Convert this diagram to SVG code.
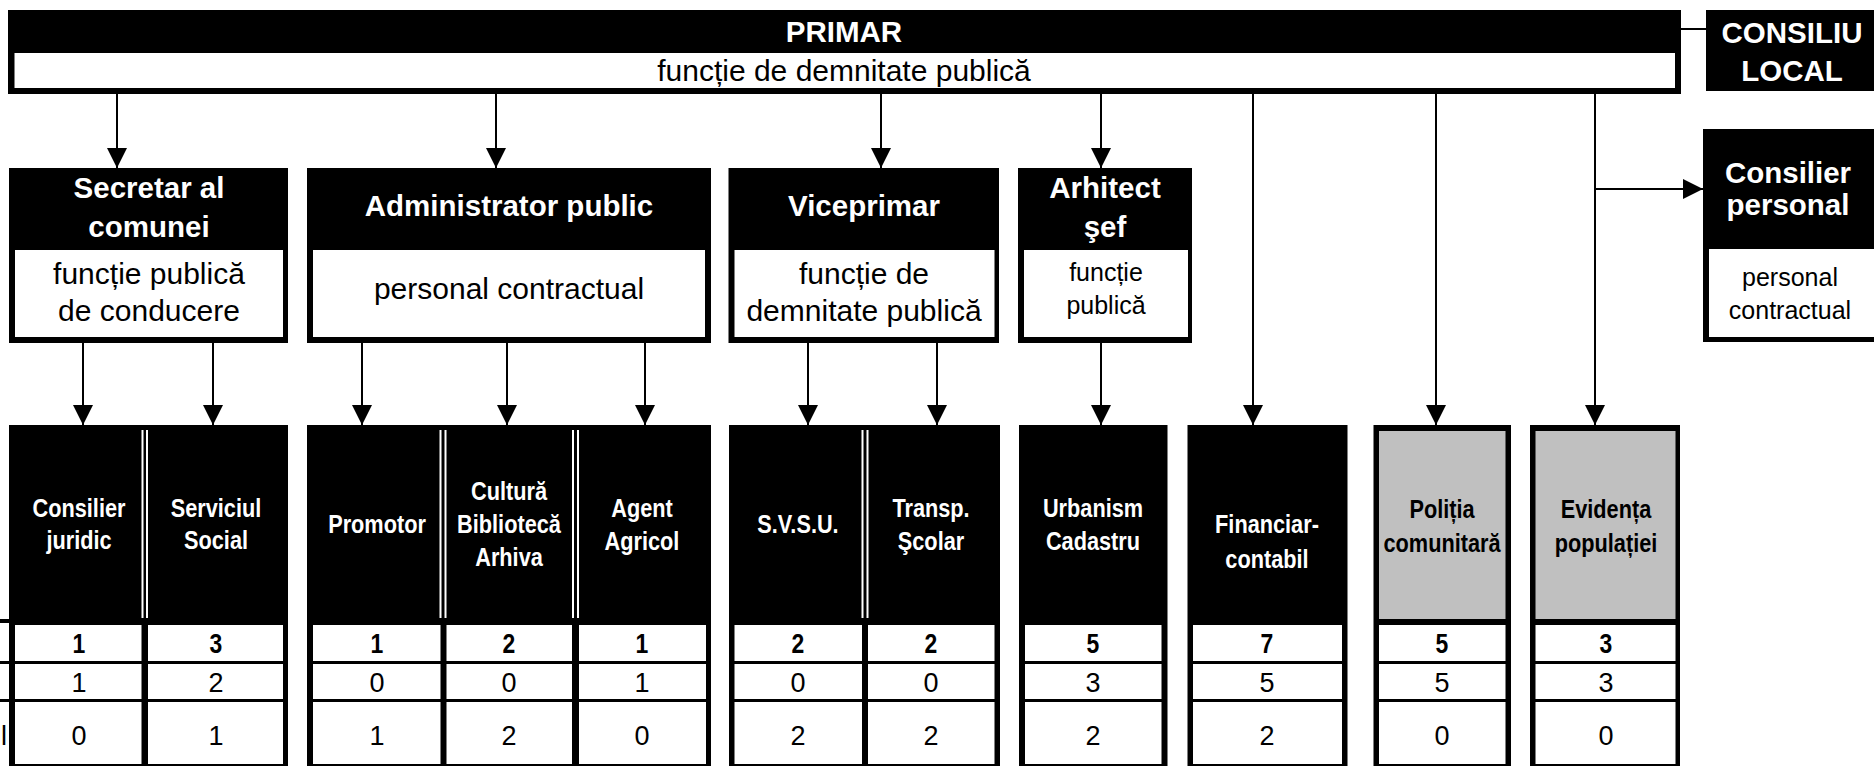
<svg xmlns="http://www.w3.org/2000/svg" width="1874" height="766" viewBox="0 0 1874 766">
<style>
.bk{fill:#000}
.wh{fill:#fff}
.gr{fill:#c0c0c0}
.tb{font-family:"Liberation Sans",Arial,sans-serif;font-weight:bold;font-size:29.5px;fill:#fff;text-anchor:middle}
.tr{font-family:"Liberation Sans",Arial,sans-serif;font-size:30px;fill:#000;text-anchor:middle}
.ts{font-family:"Liberation Sans",Arial,sans-serif;font-size:25px;fill:#000;text-anchor:middle}
.nw{font-family:"Liberation Sans",Arial,sans-serif;font-weight:bold;font-size:26.5px;fill:#fff;text-anchor:middle}
.nk{font-family:"Liberation Sans",Arial,sans-serif;font-weight:bold;font-size:26.5px;fill:#000;text-anchor:middle}
.d1{font-family:"Liberation Sans",Arial,sans-serif;font-weight:bold;font-size:27px;fill:#000;text-anchor:middle}
.d2{font-family:"Liberation Sans",Arial,sans-serif;font-size:27px;fill:#000;text-anchor:middle}
.ln{stroke:#000;stroke-width:2;fill:none}
.ar{stroke:#000;stroke-width:2;fill:none;marker-end:url(#ah)}
</style>
<defs>
<marker id="ah" markerUnits="userSpaceOnUse" markerWidth="20" markerHeight="20" viewBox="0 0 20 20" refX="20" refY="10" orient="auto">
<path d="M0,0 L20,10 L0,20 z" fill="#000"/>
</marker>
</defs>

<g id="connectors">
<path class="ar" d="M117,88 V168"/>
<path class="ar" d="M496,94 V168"/>
<path class="ar" d="M881,94 V168"/>
<path class="ar" d="M1101,94 V168"/>
<path class="ar" d="M1253,94 V425"/>
<path class="ar" d="M1436,94 V425"/>
<path class="ar" d="M1595,86 V425"/>
<path class="ar" d="M1595,189 H1703"/>
<path class="ar" d="M83,343 V425"/>
<path class="ar" d="M213,343 V425"/>
<path class="ar" d="M362,343 V425"/>
<path class="ar" d="M507,343 V425"/>
<path class="ar" d="M645,343 V425"/>
<path class="ar" d="M808,343 V425"/>
<path class="ar" d="M937,343 V425"/>
<path class="ar" d="M1101,343 V425"/>
<path class="ln" d="M1681,29 H1706"/>
</g>

<g id="primar">
<rect class="bk" x="8" y="10" width="1673" height="84"/>
<rect class="wh" x="14.5" y="53" width="1660.5" height="35"/>
<text class="tb" x="844" y="42">PRIMAR</text>
<text class="tr" x="844" y="81">funcție de demnitate publică</text>
</g>

<g id="consiliu-local">
<rect class="bk" x="1706" y="10" width="168" height="81"/>
<text class="tb" x="1792" y="43" font-size="31">CONSILIU</text>
<text class="tb" x="1792" y="81" font-size="31">LOCAL</text>
</g>

<g id="consilier-personal">
<rect class="bk" x="1703" y="129" width="171" height="213"/>
<rect class="wh" x="1709" y="249" width="165" height="88"/>
<text class="tb" x="1788" y="183">Consilier</text>
<text class="tb" x="1788" y="215">personal</text>
<text class="ts" x="1790" y="286" font-size="26">personal</text>
<text class="ts" x="1790" y="319" font-size="26">contractual</text>
</g>

<g id="secretar">
<rect class="bk" x="9" y="168" width="279" height="175"/>
<rect class="wh" x="15" y="250" width="268" height="87"/>
<text class="tb" x="149" y="198">Secretar al</text>
<text class="tb" x="149" y="237">comunei</text>
<text class="tr" x="149" y="284">funcție publică</text>
<text class="tr" x="149" y="321">de conducere</text>
</g>

<g id="administrator">
<rect class="bk" x="307" y="168" width="404" height="175"/>
<rect class="wh" x="313" y="250" width="392" height="87"/>
<text class="tb" x="509" y="216">Administrator public</text>
<text class="tr" x="509" y="299">personal contractual</text>
</g>

<g id="viceprimar">
<rect class="bk" x="728.5" y="168" width="270.5" height="175"/>
<rect class="wh" x="734.5" y="250" width="260" height="87"/>
<text class="tb" x="864" y="216">Viceprimar</text>
<text class="tr" x="864" y="284">funcție de</text>
<text class="tr" x="864" y="321">demnitate publică</text>
</g>

<g id="arhitect">
<rect class="bk" x="1018" y="168" width="174" height="175"/>
<rect class="wh" x="1024" y="250" width="164" height="87"/>
<text class="tb" x="1105" y="198">Arhitect</text>
<text class="tb" x="1105" y="237">şef</text>
<text class="ts" x="1106" y="281">funcție</text>
<text class="ts" x="1106" y="314">publică</text>
</g>

<g id="label-column">
<rect class="bk" x="0" y="619" width="9" height="4"/>
<rect class="bk" x="0" y="661" width="9" height="3"/>
<rect class="bk" x="0" y="699" width="9" height="3"/>
<text class="d2" x="7" y="745" style="text-anchor:end">l</text>
</g>

<g id="grup-secretar">
<rect class="bk" x="9" y="425" width="279" height="341"/>
<rect class="wh" x="141.5" y="430" width="2" height="188"/>
<rect class="wh" x="146" y="430" width="2" height="188"/>
<rect class="wh" x="15" y="625" width="126.5" height="36"/>
<rect class="wh" x="148" y="625" width="135" height="36"/>
<rect class="wh" x="15" y="664" width="126.5" height="35"/>
<rect class="wh" x="148" y="664" width="135" height="35"/>
<rect class="wh" x="15" y="702" width="126.5" height="62"/>
<rect class="wh" x="148" y="702" width="135" height="62"/>
<text class="nw" transform="translate(79,517) scale(0.82,1)">Consilier<tspan x="0" dy="32">juridic</tspan></text>
<text class="nw" transform="translate(216,517) scale(0.82,1)">Serviciul<tspan x="0" dy="32">Social</tspan></text>
<text class="d1" transform="translate(79,653) scale(0.85,1)">1</text>
<text class="d1" transform="translate(216,653) scale(0.85,1)">3</text>
<text class="d2" x="79" y="692">1</text>
<text class="d2" x="216" y="692">2</text>
<text class="d2" x="79" y="745">0</text>
<text class="d2" x="216" y="745">1</text>
</g>

<g id="grup-administrator">
<rect class="bk" x="307" y="425" width="404" height="341"/>
<rect class="wh" x="439.5" y="430" width="2" height="188"/>
<rect class="wh" x="444.5" y="430" width="2" height="188"/>
<rect class="wh" x="572" y="430" width="2" height="188"/>
<rect class="wh" x="577" y="430" width="2" height="188"/>
<rect class="wh" x="313" y="625" width="127.5" height="36"/>
<rect class="wh" x="446.5" y="625" width="125.5" height="36"/>
<rect class="wh" x="579" y="625" width="127" height="36"/>
<rect class="wh" x="313" y="664" width="127.5" height="35"/>
<rect class="wh" x="446.5" y="664" width="125.5" height="35"/>
<rect class="wh" x="579" y="664" width="127" height="35"/>
<rect class="wh" x="313" y="702" width="127.5" height="62"/>
<rect class="wh" x="446.5" y="702" width="125.5" height="62"/>
<rect class="wh" x="579" y="702" width="127" height="62"/>
<text class="nw" transform="translate(377,533) scale(0.82,1)">Promotor</text>
<text class="nw" transform="translate(509,500) scale(0.82,1)">Cultură<tspan x="0" dy="33">Bibliotecă</tspan><tspan x="0" dy="33">Arhiva</tspan></text>
<text class="nw" transform="translate(642,517) scale(0.82,1)">Agent<tspan x="0" dy="33">Agricol</tspan></text>
<text class="d1" transform="translate(377,653) scale(0.85,1)">1</text>
<text class="d1" transform="translate(509,653) scale(0.85,1)">2</text>
<text class="d1" transform="translate(642,653) scale(0.85,1)">1</text>
<text class="d2" x="377" y="692">0</text>
<text class="d2" x="509" y="692">0</text>
<text class="d2" x="642" y="692">1</text>
<text class="d2" x="377" y="745">1</text>
<text class="d2" x="509" y="745">2</text>
<text class="d2" x="642" y="745">0</text>
</g>

<g id="grup-viceprimar">
<rect class="bk" x="729" y="425" width="271" height="341"/>
<rect class="wh" x="861.5" y="430" width="2" height="188"/>
<rect class="wh" x="866.5" y="430" width="2" height="188"/>
<rect class="wh" x="734.5" y="625" width="127.5" height="36"/>
<rect class="wh" x="868" y="625" width="126.5" height="36"/>
<rect class="wh" x="734.5" y="664" width="127.5" height="35"/>
<rect class="wh" x="868" y="664" width="126.5" height="35"/>
<rect class="wh" x="734.5" y="702" width="127.5" height="62"/>
<rect class="wh" x="868" y="702" width="126.5" height="62"/>
<text class="nw" transform="translate(798,533) scale(0.82,1)">S.V.S.U.</text>
<text class="nw" transform="translate(931,517) scale(0.82,1)">Transp.<tspan x="0" dy="33">Şcolar</tspan></text>
<text class="d1" transform="translate(798,653) scale(0.85,1)">2</text>
<text class="d1" transform="translate(931,653) scale(0.85,1)">2</text>
<text class="d2" x="798" y="692">0</text>
<text class="d2" x="931" y="692">0</text>
<text class="d2" x="798" y="745">2</text>
<text class="d2" x="931" y="745">2</text>
</g>

<g id="urbanism">
<rect class="bk" x="1019" y="425" width="148.5" height="341"/>
<rect class="wh" x="1025" y="625" width="136.5" height="36"/>
<rect class="wh" x="1025" y="664" width="136.5" height="35"/>
<rect class="wh" x="1025" y="702" width="136.5" height="62"/>
<text class="nw" transform="translate(1093,517) scale(0.82,1)">Urbanism<tspan x="0" dy="33">Cadastru</tspan></text>
<text class="d1" transform="translate(1093,653) scale(0.85,1)">5</text>
<text class="d2" x="1093" y="692">3</text>
<text class="d2" x="1093" y="745">2</text>
</g>

<g id="financiar">
<rect class="bk" x="1187.5" y="425" width="160" height="341"/>
<rect class="wh" x="1193" y="625" width="149" height="36"/>
<rect class="wh" x="1193" y="664" width="149" height="35"/>
<rect class="wh" x="1193" y="702" width="149" height="62"/>
<text class="nw" transform="translate(1267,533) scale(0.82,1)">Financiar-<tspan x="0" dy="35">contabil</tspan></text>
<text class="d1" transform="translate(1267,653) scale(0.85,1)">7</text>
<text class="d2" x="1267" y="692">5</text>
<text class="d2" x="1267" y="745">2</text>
</g>

<g id="politia">
<rect class="bk" x="1373.5" y="425" width="137.5" height="341"/>
<rect class="gr" x="1379" y="431" width="126.5" height="188"/>
<rect class="wh" x="1379" y="625" width="126.5" height="36"/>
<rect class="wh" x="1379" y="664" width="126.5" height="35"/>
<rect class="wh" x="1379" y="702" width="126.5" height="62"/>
<text class="nk" transform="translate(1442,518) scale(0.82,1)">Poliția<tspan x="0" dy="34">comunitară</tspan></text>
<text class="d1" transform="translate(1442,653) scale(0.85,1)">5</text>
<text class="d2" x="1442" y="692">5</text>
<text class="d2" x="1442" y="745">0</text>
</g>

<g id="evidenta">
<rect class="bk" x="1530" y="425" width="150" height="341"/>
<rect class="gr" x="1535.5" y="431" width="140" height="188"/>
<rect class="wh" x="1535.5" y="625" width="140" height="36"/>
<rect class="wh" x="1535.5" y="664" width="140" height="35"/>
<rect class="wh" x="1535.5" y="702" width="140" height="62"/>
<text class="nk" transform="translate(1606,518) scale(0.82,1)">Evidența<tspan x="0" dy="34">populației</tspan></text>
<text class="d1" transform="translate(1606,653) scale(0.85,1)">3</text>
<text class="d2" x="1606" y="692">3</text>
<text class="d2" x="1606" y="745">0</text>
</g>
</svg>
